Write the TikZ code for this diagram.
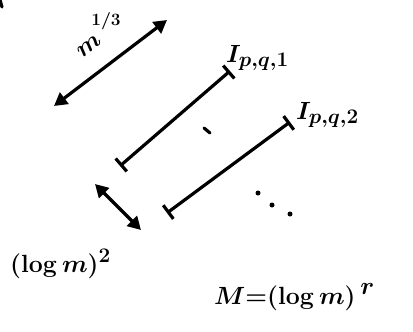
\documentclass[tikz,border=0pt]{standalone}
\usetikzlibrary{arrows.meta}
\tikzset{
  ink/.style  = {line width=3.2pt, line cap=round, draw=black},
  dbl/.style  = {ink, {Triangle[length=13pt,width=14pt]}-{Triangle[length=13pt,width=14pt]}},
  ival/.style = {ink, {Bar[width=17pt]}-{Bar[width=17pt]}},
  lbl/.style  = {inner sep=0pt, font=\fontsize{#1}{#1}\selectfont\boldmath},
  dot/.style  = {circle, fill=black, inner sep=0pt, minimum size=5pt},
}

\begin{document}
\begin{tikzpicture}[x=1pt, y=-1pt]
  \useasboundingbox (0,0) rectangle (413,332);

  % end points
  \coordinate (bigA) at (54,106);
  \coordinate (bigB) at (167,20);
  \coordinate (s1a)  at (120,166);
  \coordinate (s1b)  at (230,71);
  \coordinate (s2a)  at (167,213);
  \coordinate (s2b)  at (290,122);
  \coordinate (gapA) at (95,184);
  \coordinate (gapB) at (141,230);
  \coordinate (tkA)  at (204,128);
  \coordinate (tkB)  at (210,133);
  \coordinate (edA)  at (0,0);
  \coordinate (edB)  at (2,7);

  % intervals and widths
  \draw[dbl]  (bigA) -- (bigB);
  \draw[ival] (s1a) -- (s1b);
  \draw[ival] (s2a) -- (s2b);
  \draw[dbl]  (gapA) -- (gapB);
  \draw[ink]  (tkA) -- (tkB);
  \draw[ink]  (edA) -- (edB);

  % dots
  \node[dot] (d1) at (258,193) {};
  \node[dot] (d2) at (272,205) {};
  \node[dot] (d3) at (290,214) {};

  % labels
  \node[lbl=30, rotate=38] (cubm) at (89,46) {$m$};
  \node[lbl=19] (cube) at (106,21) {$1/3$};
  \node[lbl=31, anchor=base west] (iv1) at (226,62) {$I_{p,q,1}$};
  \node[lbl=31, anchor=base west] (iv2) at (296,119) {$I_{p,q,2}$};
  \node[lbl=29, anchor=base west] (logsq) at (10,272) {$(\log m)^2$};
  \node[lbl=44, anchor=base west] (bigm) at (214,304) {$M{=}(\log m)^{\,r}$};
\end{tikzpicture}
\end{document}
